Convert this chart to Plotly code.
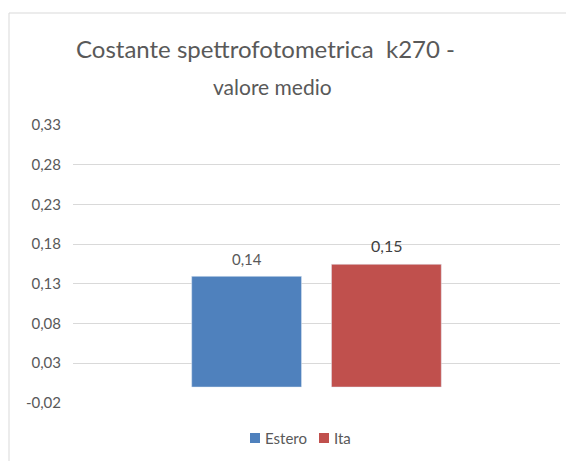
import plotly.graph_objects as go

# values
categories = ["k270"]
series_names = ["Estero", "Ita"]
series_colors = ["#4f81bd", "#c0504d"]
estero_values = [0.1395]
ita_values = [0.1547]
estero_labels = ["0,14"]
ita_labels = ["0,15"]
tick_values = [-0.02, 0.03, 0.08, 0.13, 0.18, 0.23, 0.28, 0.33]
tick_labels = ["-0,02", "0,03", "0,08", "0,13", "0,18", "0,23", "0,28", "0,33"]

FONT = "Lato"
GREY = "#595959"

# page has an 8px body margin, so positions below are screen px - 8
W, H = 574, 461
L, R, T, B = 65, W - 552, 117, H - 395
pw, ph = W - L - R, H - T - B


def px_x(x):
    return (x - L) / pw


def px_y(y):
    return (H - B - y) / ph


fig = go.Figure()
fig.add_trace(go.Bar(x=categories, y=estero_values, name=series_names[0],
                     marker=dict(color=series_colors[0])))
fig.add_trace(go.Bar(x=categories, y=ita_values, name=series_names[1],
                     marker=dict(color=series_colors[1])))

annotations = [
    dict(text="Costante spettrofotometrica  k270 -", xref="paper", yref="paper",
         x=px_x(257), y=px_y(41), xanchor="center", yanchor="middle",
         showarrow=False, font=dict(family=FONT, size=24, color=GREY)),
    dict(text="valore medio", xref="paper", yref="paper",
         x=px_x(264), y=px_y(79), xanchor="center", yanchor="middle",
         showarrow=False, font=dict(family=FONT, size=21, color=GREY)),
    # data labels
    dict(text=estero_labels[0], x=categories[0], y=estero_values[0], xref="x", yref="y",
         xshift=-70, yshift=17, yanchor="middle", showarrow=False,
         font=dict(family=FONT, size=15, color=GREY)),
    dict(text=ita_labels[0], x=categories[0], y=ita_values[0], xref="x", yref="y",
         xshift=70, yshift=19, yanchor="middle", showarrow=False,
         font=dict(family=FONT, size=16, color="#404040")),
]

shapes = [
    dict(type="line", xref="paper", yref="paper", x0=px_x(1), x1=px_x(W),
         y0=px_y(5), y1=px_y(5), line=dict(color="#d9d9d9", width=1)),
    dict(type="line", xref="paper", yref="paper", x0=px_x(1), x1=px_x(1),
         y0=px_y(5), y1=px_y(H), line=dict(color="#d9d9d9", width=1)),
]

# hand-made legend (Excel style: small square close to the text)
legend_items = [(series_names[0], series_colors[0], 242), (series_names[1], series_colors[1], 311)]
for name, color, x0 in legend_items:
    shapes.append(dict(type="rect", xref="paper", yref="paper",
                       x0=px_x(x0), x1=px_x(x0 + 10), y0=px_y(425), y1=px_y(435),
                       fillcolor=color, line=dict(width=0)))
    annotations.append(dict(text=name, xref="paper", yref="paper",
                            x=px_x(x0 + 13), y=px_y(430), xanchor="left", yanchor="middle",
                            showarrow=False, font=dict(family=FONT, size=15, color=GREY)))

fig.update_layout(
    width=W, height=H,
    margin=dict(l=L, r=R, t=T, b=B),
    paper_bgcolor="white", plot_bgcolor="white",
    barmode="group", bargap=0.426, bargroupgap=0.214,
    showlegend=False,
    xaxis=dict(type="category", range=[-0.5, 0.5], showticklabels=False,
               showgrid=False, zeroline=False, showline=False),
    yaxis=dict(
        range=[-0.0201, 0.3302],
        tickvals=tick_values, ticktext=tick_labels,
        tickfont=dict(family=FONT, size=15, color=GREY),
        showgrid=True, gridcolor="#d9d9d9", gridwidth=1,
        zeroline=False, showline=False, ticks="", ticklen=0,
        ticklabelstandoff=11,
    ),
    annotations=annotations,
    shapes=shapes,
)

fig.write_html("out.html")
